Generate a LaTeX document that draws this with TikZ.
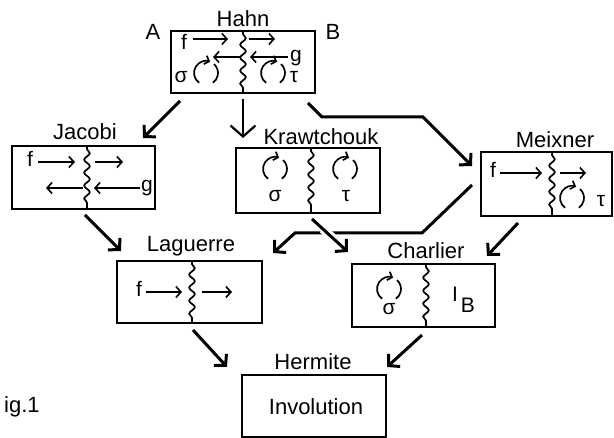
\documentclass[tikz,border=0pt]{standalone}
\usepackage{fontspec}
\setmainfont{Liberation Sans}
\usetikzlibrary{arrows.meta,decorations.pathmorphing,calc}

\begin{document}
\begin{tikzpicture}[x=1pt,y=1pt,
  box/.style={draw, line width=1.8pt, inner sep=0pt},
  title/.style={anchor=base, inner sep=0pt, font=\fontsize{22}{24}\selectfont},
  sym/.style={anchor=base, inner sep=0pt, font=\fontsize{21}{24}\selectfont},
  wave/.style={line width=1.7pt, decorate,
    decoration={snake, amplitude=2.8pt, segment length=13pt, pre length=4pt, post length=4pt}},
  flow/.style={line width=3pt, -{Straight Barb[length=8pt,width=17pt]}},
  inarrow/.style={line width=1.6pt, -{Straight Barb[length=5pt,width=11pt]}},
  turn/.pic={
    \draw[line width=1.7pt, -{Straight Barb[length=4pt,width=9pt]}]
      (235:12) arc[start angle=235, end angle=70, radius=12];
    \draw[line width=1.7pt] (48:12) arc[start angle=48, end angle=-55, radius=12];
  }
]
\useasboundingbox (0,0) rectangle (614,-438);

% ---- boxes ----
\node[box, minimum width=144, minimum height=62] (hahn)  at (243,-62)     {};
\node[box, minimum width=143, minimum height=63] (jac)   at (83.5,-177.5) {};
\node[box, minimum width=144, minimum height=65] (kraw)  at (308,-180.5)  {};
\node[box, minimum width=131, minimum height=64] (meix)  at (546.5,-184)  {};
\node[box, minimum width=145, minimum height=62] (lag)   at (189.5,-292)  {};
\node[box, minimum width=143, minimum height=63] (charl) at (423.5,-295.5){};
\node[box, minimum width=144, minimum height=62] (herm)  at (314,-406)    {};

% ---- wavy dividers ----
\draw[wave] (hahn.north)  -- (hahn.south);
\draw[wave] (jac.north -| 87,0)   -- (jac.south -| 87,0);
\draw[wave] (kraw.north -| 311,0) -- (kraw.south -| 311,0);
\draw[wave] (meix.north -| 552,0) -- (meix.south -| 552,0);
\draw[wave] (lag.north -| 192,0)  -- (lag.south -| 192,0);
\draw[wave] (charl.north -| 426,0)-- (charl.south -| 426,0);

% ---- titles ----
\node[title] (tHahn)  at (243,-27)  {Hahn};
\node[title] (tA)     at (153,-40)  {A};
\node[title] (tB)     at (333,-40)  {B};
\node[title] (tJac)   at (85,-140)  {Jacobi};
\node[title] (tKraw)  at (321,-145) {Krawtchouk};
\node[title] (tMeix)  at (555,-148) {Meixner};
\node[title] (tLag)   at (191,-252) {Laguerre};
\node[title] (tCharl) at (426,-259) {Charlier};
\node[title] (tHerm)  at (313,-370) {Hermite};
\node[title] (tInv)   at (316,-415) {Involution};
\node[title, anchor=base west] (tFig) at (4,-413) {ig.1};

% ---- Hahn contents ----
\node[sym] (hf) at (184,-50) {f};
\node[sym] (hg) at (296,-62) {g};
\node[sym] (hs) at (181,-83) {σ};
\node[sym] (ht) at (294,-83) {τ};
\draw[inarrow] (193,-39) -- (228,-39);
\draw[inarrow] (249,-39) -- (275,-39);
\draw[inarrow] (240,-57) -- (213,-57);
\draw[inarrow] (288,-57) -- (250,-57);
\pic at (206,-73) {turn};
\pic at (273,-73) {turn};

% ---- Jacobi contents ----
\node[sym] (jf) at (30,-167)  {f};
\node[sym] (jg) at (147,-192) {g};
\draw[inarrow] (38,-162)  -- (75,-162);
\draw[inarrow] (95,-162)  -- (123,-162);
\draw[inarrow] (83,-188)  -- (46,-188);
\draw[inarrow] (140,-188) -- (94,-188);

% ---- Krawtchouk contents ----
\pic at (275,-169) {turn};
\pic at (345,-169) {turn};
\node[sym] (ks) at (275,-202) {σ};
\node[sym] (kt) at (346,-202) {τ};

% ---- Meixner contents ----
\node[sym] (mf) at (493,-178) {f};
\draw[inarrow] (500,-173) -- (542,-173);
\draw[inarrow] (560,-173) -- (586,-173);
\pic at (572,-198) {turn};
\node[sym] (mt) at (601,-207) {τ};

% ---- Laguerre contents ----
\node[sym] (lf) at (139,-297) {f};
\draw[inarrow] (146,-292) -- (182,-292);
\draw[inarrow] (202,-292) -- (232,-292);

% ---- Charlier contents ----
\pic at (389,-289) {turn};
\node[sym] (cs) at (389,-315) {σ};
\node[sym] (cI) at (455,-302) {I};
\node[sym] (cB) at (468,-313) {B};

% ---- connector end points ----
\coordinate (h1) at (180,-101);  \coordinate (j0) at (143,-138);
\coordinate (h2) at (243,-99);   \coordinate (k0) at (243,-138);
\coordinate (h3) at (308,-103);  \coordinate (h3a) at (322,-117);
\coordinate (h3b) at (423,-117); \coordinate (m0) at (472,-166);
\coordinate (j1) at (85,-215);   \coordinate (l0) at (121,-251);
\coordinate (m1) at (472,-185);  \coordinate (m1a) at (422,-233);
\coordinate (m1b) at (295,-233); \coordinate (l1) at (273,-253);
\coordinate (k1) at (312,-219);  \coordinate (c0) at (348,-252);
\coordinate (m2) at (518,-223);  \coordinate (c1) at (487,-256);
\coordinate (l2) at (193,-330);  \coordinate (e0) at (227,-367);
\coordinate (c2) at (422,-335);  \coordinate (e1) at (387,-367);

% ---- connectors ----
\draw[flow] (h1) -- (j0);
\draw[line width=2.2pt, -{Straight Barb[length=11pt,width=25pt]}] (h2) -- (k0);
\draw[flow, line join=miter] (h3) -- (h3a) -- (h3b) -- (m0);
\draw[flow] (j1) -- (l0);
\draw[flow, line join=miter] (m1) -- (m1a) -- (m1b) -- (l1);
\draw[white, line width=9pt] ($(k1)!0.3!(c0)$) -- ($(k1)!0.65!(c0)$);
\draw[flow] (k1) -- (c0);
\draw[flow] (m2) -- (c1);
\draw[flow] (l2) -- (e0);
\draw[flow] (c2) -- (e1);
\end{tikzpicture}
\end{document}
